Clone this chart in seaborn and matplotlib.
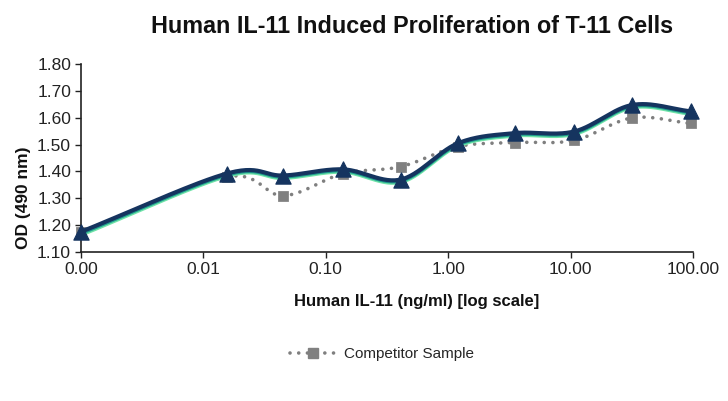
import numpy as np
import pandas as pd
import matplotlib
matplotlib.use("Agg")
import matplotlib.pyplot as plt
import seaborn as sns
from matplotlib.lines import Line2D

sns.set_theme(style="white")
plt.rcParams['font.family'] = ['Liberation Sans', 'DejaVu Sans']

# ---- data ----
concentration = [0.001, 0.0155, 0.045, 0.138, 0.41, 1.2, 3.5, 10.7, 32.0, 96.0]
il11_navy = [1.175, 1.392, 1.385, 1.408, 1.370, 1.505, 1.543, 1.549, 1.648, 1.624]
il11_teal = [1.170, 1.388, 1.381, 1.404, 1.366, 1.501, 1.539, 1.545, 1.644, 1.620]
il11_green = [1.164, 1.383, 1.376, 1.399, 1.361, 1.496, 1.534, 1.540, 1.639, 1.615]
competitor = [1.175, 1.380, 1.310, 1.392, 1.418, 1.493, 1.508, 1.516, 1.600, 1.579]
x_ticks = [0.001, 0.01, 0.1, 1, 10, 100]
x_ticklabels = ["0.00", "0.01", "0.10", "1.00", "10.00", "100.00"]
y_ticks = [1.10, 1.20, 1.30, 1.40, 1.50, 1.60, 1.70, 1.80]

title = "Human IL-11 Induced Proliferation of T-11 Cells"
xlabel = "Human IL-11 (ng/ml) [log scale]"
ylabel = "OD (490 nm)"
legend_label = "Competitor Sample"


def smooth(xs, ys, n=30):
    """Catmull-Rom style smoothing in log-x space (like Excel smoothed line)."""
    lx = np.log10(np.asarray(xs, float))
    y = np.asarray(ys, float)
    P = np.column_stack([lx, y])
    P = np.vstack([P[0] - (P[1] - P[0]), P, P[-1] + (P[-1] - P[-2])])
    out = []
    for i in range(1, len(P) - 2):
        p0, p1, p2, p3 = P[i - 1], P[i], P[i + 1], P[i + 2]
        t = np.linspace(0, 1, n, endpoint=(i == len(P) - 3))[:, None]
        seg = 0.5 * ((2 * p1) + (-p0 + p2) * t + (2 * p0 - 5 * p1 + 4 * p2 - p3) * t ** 2
                     + (-p0 + 3 * p1 - 3 * p2 + p3) * t ** 3)
        out.append(seg)
    S = np.vstack(out)
    return 10 ** S[:, 0], S[:, 1]


fig = plt.figure(figsize=(7.28, 4.01), dpi=100)
fig.patch.set_facecolor("white")
ax = fig.add_axes([0.111, 0.3716, 0.841, 0.4684])
ax.set_facecolor("white")

DOT = (0, (0.01, 2.4))

# competitor dotted line
sx, sy = smooth(concentration, competitor)
ax.plot(sx, sy, color="#7f7f7f", lw=2.6, linestyle=DOT,
        dash_capstyle="round", zorder=2, clip_on=False)
sns.scatterplot(x=concentration, y=competitor, marker="s", s=45, color="#808080",
                edgecolor="#808080", ax=ax, zorder=3, legend=False, clip_on=False)

# IL-11 series (stacked lines)
for vals, col, lw in [(il11_green, "#6fe3a8", 3.0), (il11_teal, "#1f9e8e", 3.0),
                      (il11_navy, "#15345f", 3.0)]:
    gx, gy = smooth(concentration, vals)
    ax.plot(gx, gy, color=col, lw=lw, solid_capstyle="round", zorder=4, clip_on=False)
sns.scatterplot(x=concentration, y=il11_navy, marker="^", s=120, color="#15345f",
                edgecolor="#15345f", ax=ax, zorder=5, legend=False, clip_on=False)

ax.set_xscale("log")
ax.set_xlim(0.001, 100)
ax.set_ylim(1.10, 1.80)
ax.set_xticks(x_ticks)
ax.set_xticklabels(x_ticklabels)
ax.minorticks_off()
ax.set_yticks(y_ticks)
ax.set_yticklabels([f"{v:.2f}" for v in y_ticks])
ax.tick_params(axis="both", labelsize=12.5, colors="#222222", direction="out",
               length=4, width=1, left=True, bottom=True, pad=3)
for s in ["top", "right"]:
    ax.spines[s].set_visible(False)
for s in ["left", "bottom"]:
    ax.spines[s].set_color("#222222")
    ax.spines[s].set_linewidth(1.2)

fig.text(0.566, 0.933, title, ha="center", va="center", fontsize=16.8,
         fontweight="bold", color="#111111")
fig.text(0.572, 0.247, xlabel, ha="center", va="center", fontsize=12,
         fontweight="bold", color="#111111")
fig.text(0.032, 0.506, ylabel, ha="center", va="center", fontsize=12.5,
         fontweight="bold", color="#111111", rotation=90)

handle = Line2D([0], [0], color="#7f7f7f", lw=2.6, linestyle=DOT,
                marker="s", markersize=6.5, markerfacecolor="#808080",
                markeredgecolor="#808080", dash_capstyle="round")
fig.legend([handle], [legend_label], loc="center", bbox_to_anchor=(0.525, 0.117),
           frameon=False, fontsize=11, handlelength=3.0, handletextpad=0.5)

fig.savefig("out.png", dpi=100, facecolor="white")
